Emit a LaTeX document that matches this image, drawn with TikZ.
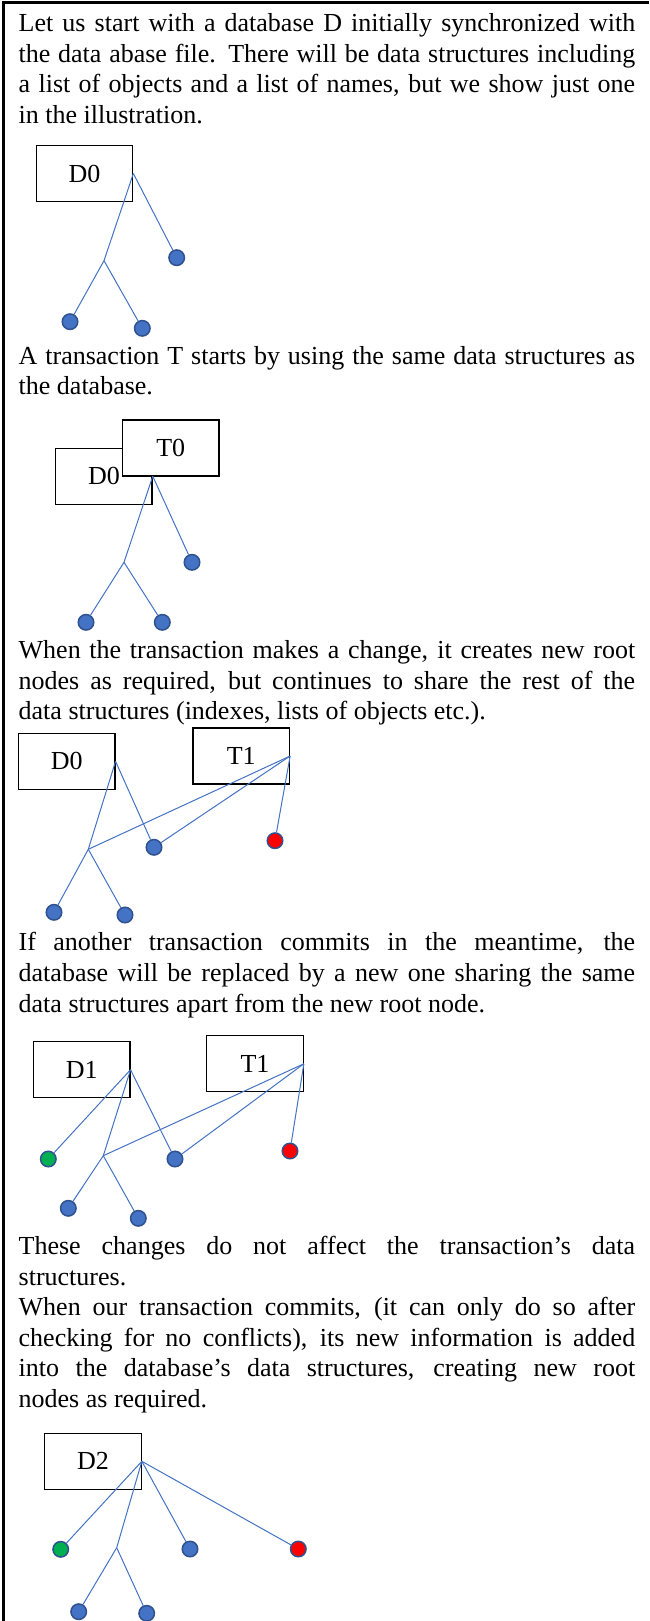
\documentclass[tikz,border=0pt]{standalone}
\usepackage{fontspec}
\setmainfont{Liberation Serif}
\definecolor{lblue}{HTML}{4472C4}
\definecolor{dblue}{HTML}{2F528F}
\definecolor{cgreen}{HTML}{00B050}
\definecolor{cred}{HTML}{FF0000}
\tikzset{
 txt/.style={inner sep=0pt, anchor=base west, font=\fontsize{26}{30.5}\selectfont},
 box/.style={draw=black, line width=1.3pt, fill=white, minimum width=96.4pt, minimum height=56pt, inner sep=0pt, font=\fontsize{26}{30.5}\selectfont},
 leaf/.style={circle, draw=dblue, line width=1.5pt, fill=lblue, minimum size=15.5pt, inner sep=0pt},
 gleaf/.style={leaf, fill=cgreen},
 rleaf/.style={leaf, fill=cred},
 conn/.style={draw=lblue, line width=1pt},
 borderline/.style={draw=black, line width=2.5pt}
}
\newcommand\jline[3]{\node[txt] (#1) at (18.5,#2) {\makebox[616.5pt][s]{#3}};}
\newcommand\lline[3]{\node[txt] (#1) at (18.5,#2) {#3};}
\begin{document}
\begin{tikzpicture}[x=1pt,y=-1pt]
\useasboundingbox (0,0) rectangle (649,1621);
% frame
\coordinate (fbl) at (3.7,1621);
\coordinate (ftl) at (3.7,2.5);
\coordinate (ftr) at (649,2.5);
\draw[borderline] (fbl) -- (ftl) -- (ftr);

% paragraph 1
\jline{p1a}{32}{Let us start with a database D initially synchronized with}
\jline{p1b}{62.5}{the data abase file. There will be data structures including}
\jline{p1c}{93}{a list of objects and a list of names, but we show just one}
\lline{p1d}{123.5}{in the illustration.}

% tree 1
\node[box] (D0a) at (84.5,173.5) {D0};
\coordinate (b1) at (104,260.7);
\node[leaf] (r1) at (176.7,257.7) {};
\node[leaf] (l1) at (70,321.7) {};
\node[leaf] (m1) at (142.3,328.3) {};
\draw[conn] (D0a.east) -- (b1);
\draw[conn] (D0a.east) -- (r1);
\draw[conn] (b1) -- (l1);
\draw[conn] (b1) -- (m1);

% paragraph 2
\jline{p2a}{364.3}{A transaction T starts by using the same data structures as}
\lline{p2b}{394.5}{the database.}

% tree 2
\node[box] (D0b) at (103.9,476.2) {D0};
\node[box] (T0) at (170.8,448) {T0};
\coordinate (b2) at (124,562.3);
\node[leaf] (r2) at (192,562.3) {};
\node[leaf] (l2) at (86,622.3) {};
\node[leaf] (m2) at (162.3,622.3) {};
\draw[conn] (D0b.east) -- (b2);
\draw[conn] (D0b.east) -- (r2);
\draw[conn] (b2) -- (l2);
\draw[conn] (b2) -- (m2);

% paragraph 3
\jline{p3a}{658.3}{When the transaction makes a change, it creates new root}
\jline{p3b}{689}{nodes as required, but continues to share the rest of the}
\lline{p3c}{719.6}{data structures (indexes, lists of objects etc.).}

% tree 3
\node[box] (D0c) at (66.7,761.3) {D0};
\node[box] (T1a) at (241.3,756) {T1};
\coordinate (b3) at (88.3,849.3);
\node[leaf] (u3) at (154,847.3) {};
\node[rleaf] (x3) at (275,840.7) {};
\node[leaf] (l3) at (54,912.3) {};
\node[leaf] (m3) at (125,915) {};
\draw[conn] (D0c.east) -- (b3);
\draw[conn] (D0c.east) -- (u3);
\draw[conn] (T1a.east) -- (b3);
\draw[conn] (T1a.east) -- (u3);
\draw[conn] (T1a.east) -- (x3);
\draw[conn] (b3) -- (l3);
\draw[conn] (b3) -- (m3);

% paragraph 4
\jline{p4a}{950.7}{If another transaction commits in the meantime, the}
\jline{p4b}{981.3}{database will be replaced by a new one sharing the same}
\lline{p4c}{1012}{data structures apart from the new root node.}

% tree 4
\node[box] (D1) at (81.7,1069.7) {D1};
\node[box] (T1b) at (255,1063.8) {T1};
\node[gleaf] (g4) at (48.3,1159) {};
\coordinate (b4) at (103.3,1155.7);
\node[leaf] (u4) at (175,1159) {};
\node[rleaf] (x4) at (290,1151) {};
\node[leaf] (l4) at (68.3,1208.3) {};
\node[leaf] (m4) at (138.3,1218.3) {};
\draw[conn] (D1.east) -- (g4);
\draw[conn] (D1.east) -- (b4);
\draw[conn] (D1.east) -- (u4);
\draw[conn] (T1b.east) -- (b4);
\draw[conn] (T1b.east) -- (u4);
\draw[conn] (T1b.east) -- (x4);
\draw[conn] (b4) -- (l4);
\draw[conn] (b4) -- (m4);

% paragraph 5
\jline{p5a}{1254.3}{These changes do not affect the transaction’s data}
\lline{p5b}{1285}{structures.}
\jline{p5c}{1315.6}{When our transaction commits, (it can only do so after}
\jline{p5d}{1346.2}{checking for no conflicts), its new information is added}
\jline{p5e}{1376.8}{into the database’s data structures, creating new root}
\lline{p5f}{1407.4}{nodes as required.}

% tree 5
\node[box] (D2) at (93,1461.3) {D2};
\node[gleaf] (g5) at (60.7,1549.3) {};
\coordinate (b5) at (116.7,1547.7);
\node[leaf] (u5) at (190,1549) {};
\node[rleaf] (x5) at (298.3,1549) {};
\node[leaf] (l5) at (78.7,1611.7) {};
\node[leaf] (m5) at (146.7,1613.3) {};
\draw[conn] (D2.east) -- (g5);
\draw[conn] (D2.east) -- (b5);
\draw[conn] (D2.east) -- (u5);
\draw[conn] (D2.east) -- (x5);
\draw[conn] (b5) -- (l5);
\draw[conn] (b5) -- (m5);
\end{tikzpicture}
\end{document}
